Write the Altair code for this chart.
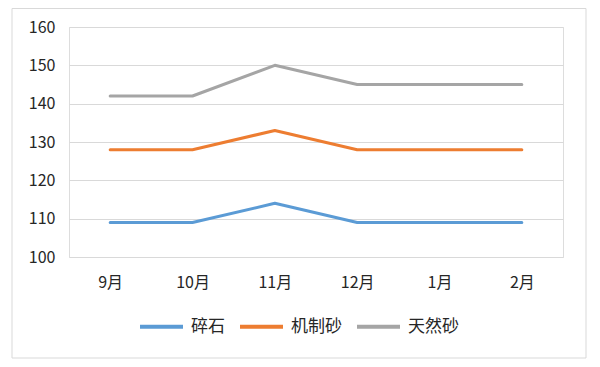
import altair as alt
import pandas as pd

months = ["9月", "10月", "11月", "12月", "1月", "2月"]
series_names = ["碎石", "机制砂", "天然砂"]
suishi = [109, 109, 114, 109, 109, 109]
jizhisha = [128, 128, 133, 128, 128, 128]
tianransha = [142, 142, 150, 145, 145, 145]
colors = ["#5B9BD5", "#ED7D31", "#A5A5A5"]
y_ticks = [100, 110, 120, 130, 140, 150, 160]

rows = []
for name, vals in zip(series_names, [suishi, jizhisha, tianransha]):
    for m, v in zip(months, vals):
        rows.append({"月份": m, "系列": name, "值": v})
df = pd.DataFrame(rows)

FONT = "Noto Sans CJK SC"
TXT = "#262626"

lines = alt.Chart(df).mark_line(strokeWidth=3, strokeCap="round", strokeJoin="round").encode(
    x=alt.X("月份:O", sort=months, scale=alt.Scale(type="point", padding=0.5),
            axis=alt.Axis(title=None, labelAngle=0, domain=False, ticks=False, grid=False,
                          labelPadding=17, labelFontSize=16, labelColor=TXT, labelFont=FONT)),
    y=alt.Y("值:Q", scale=alt.Scale(domain=[100, 160], nice=False, zero=False),
            axis=alt.Axis(title=None, values=y_ticks, domain=False, ticks=False, grid=True,
                          gridColor="#D9D9D9", gridWidth=1, labelPadding=14, labelFontSize=16,
                          labelColor=TXT, labelFont=FONT)),
    color=alt.Color("系列:N", sort=series_names,
                    scale=alt.Scale(domain=series_names, range=colors),
                    legend=alt.Legend(title=None, orient="none", direction="horizontal",
                                      legendX=69, legendY=276, symbolType="stroke",
                                      symbolSize=1849, symbolStrokeWidth=4,
                                      labelFontSize=17, labelFont=FONT, labelColor=TXT,
                                      labelOffset=6, columnPadding=7)),
)

border = alt.Chart(pd.DataFrame({"a": [0]})).mark_rect(
    fill=None, stroke="#D9D9D9", strokeWidth=1
).encode(
    x=alt.value(-57), x2=alt.value(517), y=alt.value(-18.5), y2=alt.value(331)
)

chart = alt.layer(border, lines).properties(
    width=494, height=230,
    autosize=alt.AutoSizeParams(type="none"),
    padding={"left": 61, "top": 19, "right": 29, "bottom": 102},
).configure_view(stroke=None).configure(background="white")

chart.save("out.html", embed_options={"renderer": "svg", "actions": False})
